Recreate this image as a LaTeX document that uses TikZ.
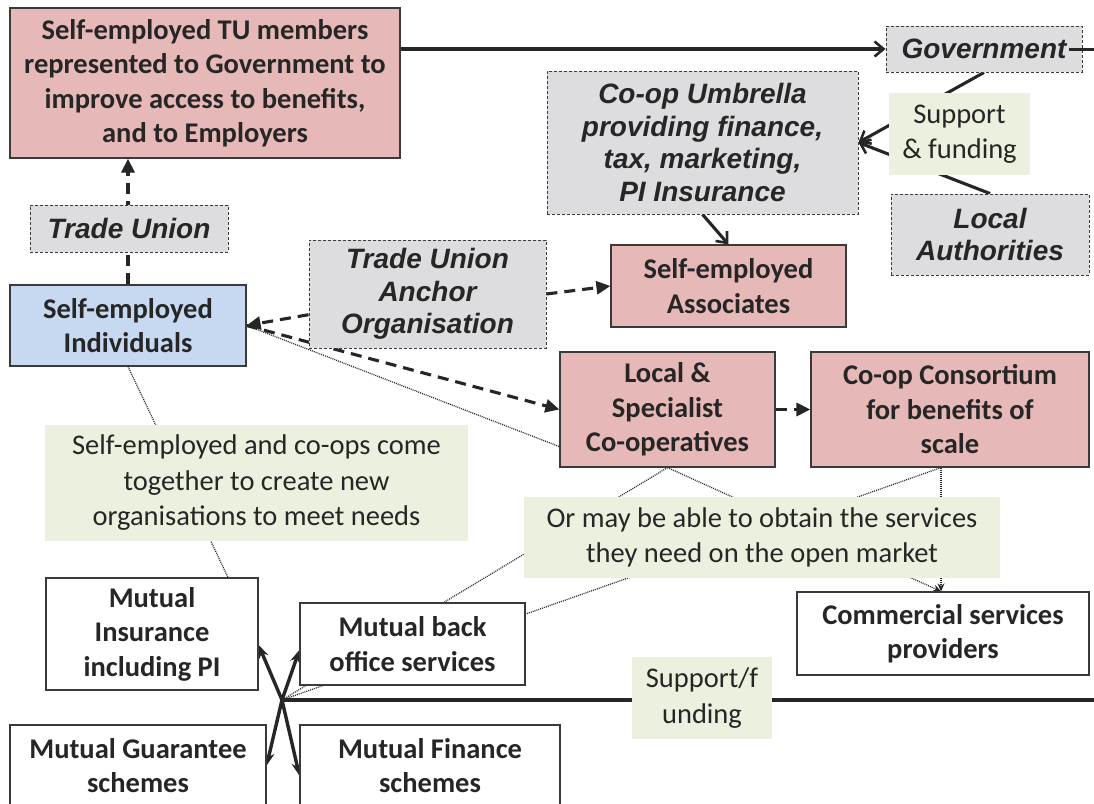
\documentclass[tikz,border=0pt]{standalone}
\usepackage{fontspec}
\setmainfont{Carlito}
\newfontfamily\arialfont{Liberation Sans}
\usetikzlibrary{arrows.meta,calc}
\pgfdeclarelayer{bgwhite}
\pgfdeclarelayer{bg}
\pgfsetlayers{bgwhite,bg,main}
\definecolor{pinkf}{HTML}{E6B9B8}
\definecolor{bluef}{HTML}{C6D9F0}
\definecolor{greyf}{HTML}{DDDDDF}
\definecolor{greenf}{HTML}{EBF1DE}
\definecolor{txt}{HTML}{262626}
\definecolor{edge}{HTML}{3A3A3A}
\begin{document}
\begin{tikzpicture}[x=1pt,y=-1pt,
  wh/.style 2 args={minimum width=#1pt, minimum height=#2pt},
  base/.style={rectangle, inner sep=0pt, align=center, text=txt,
    font=\fontsize{28.5}{34.5}\selectfont\bfseries},
  pinkbox/.style={base, fill=pinkf, draw=edge, line width=1.2pt},
  bluebox/.style={base, fill=bluef, draw=edge, line width=1.2pt},
  whitebox/.style={base, fill=white, draw=edge, line width=1.2pt},
  greybox/.style={rectangle, inner sep=0pt, align=center, text=txt, fill=greyf,
    draw=edge, dash pattern=on 3pt off 2pt, line width=0.9pt,
    font=\arialfont\bfseries\itshape\fontsize{28}{32.5}\selectfont},
  note/.style={rectangle, inner sep=0pt, align=center, fill=greenf, text=txt,
    font=\fontsize{28.5}{35.5}\selectfont},
  solidarrow/.style={draw=txt, line width=3.1pt, -{Straight Barb[length=9pt,width=15pt,line width=2.6pt]}},
  dasharrow/.style={draw=txt, line width=3.1pt, dash pattern=on 11pt off 7pt, -{Triangle[length=14pt,width=13pt]}},
  dotline/.style={draw=black!85, line width=1.2pt, dash pattern=on 1pt off 1pt},
  dotarrow/.style={dotline, -{Stealth[length=8pt,width=7pt]}},
  hubarrow/.style={draw=txt, line width=3.4pt, -{Stealth[length=13pt,width=10pt]}},
  hubline/.style={draw=txt, line width=3.4pt}
]
\begin{pgfonlayer}{bgwhite}
\fill[white] (0,0) rectangle (1094,803);
\end{pgfonlayer}
\useasboundingbox (0,0) rectangle (1094,803);

\node[pinkbox, wh={390}{150}] (tu) at (205,83) {Self-employed TU members\\represented to Government to\\improve access to benefits,\\and to Employers};
\node[greybox, wh={196}{46}] (gov) at (984,49) {Government};
\node[greybox, wh={311}{143}] (umb) at (702.5,142.5) {Co-op Umbrella\\providing finance,\\tax, marketing,\\PI Insurance};
\node[note, wh={141}{82}] (sf) at (959.5,134) {Support\\\& funding};
\node[greybox, wh={198}{81}] (la) at (990,234.5) {Local\\Authorities};
\node[greybox, wh={198}{47}] (tun) at (129,228.5) {Trade Union};
\node[greybox, wh={237}{108}] (anc) at (427.5,294) {Trade Union\\Anchor\\Organisation};
\node[pinkbox, wh={235}{82}] (assoc) at (728.5,286) {Self-employed\\Associates};
\node[bluebox, wh={236}{81}] (ind) at (128,325.5) {Self-employed\\Individuals};
\node[pinkbox, wh={215}{115}] (loc) at (667.5,409.5) {Local \&\\Specialist\\Co-operatives};
\node[pinkbox, wh={278}{115}] (cons) at (950,409.5) {Co-op Consortium\\for benefits of\\scale};
\node[note, wh={423}{116}] (n1) at (256.5,483) {Self-employed and co-ops come\\together to create new\\organisations to meet needs};
\node[note, wh={476}{81}] (n2) at (762,537.5) {Or may be able to obtain the services\\they need on the open market};
\node[whitebox, wh={292}{83}] (com) at (943,633.5) {Commercial services\\providers};
\node[whitebox, wh={212}{112}] (ins) at (152,634) {Mutual\\Insurance\\including PI};
\node[whitebox, wh={225}{82}] (bo) at (412.5,644) {Mutual back\\office services};
\node[note, wh={140}{82}] (n3) at (702,698) {Support/f\\unding};
\node[whitebox, wh={256}{81}] (gua) at (138,765.5) {Mutual Guarantee\\schemes};
\node[whitebox, wh={260}{81}] (fin) at (430,765.5) {Mutual Finance\\schemes};

\coordinate (hub) at (282,700);
\coordinate (hubout) at (1110,700);
\coordinate (govout) at (1110,49);

% line leaving Government to the right (visible over the box)
\draw[draw=txt, line width=3pt] ([xshift=-13pt]gov.east) -- (govout);

\begin{pgfonlayer}{bg}
\draw[solidarrow] (tu.east |- gov.west) -- (gov.west);
\draw[solidarrow] (gov.south) -- (umb.east);
\draw[solidarrow] (la.north) -- (umb.east);
\draw[solidarrow] (umb.south) -- (assoc.north);

\draw[dasharrow] (ind.north) -- (ind.north |- tu.south);
\draw[dasharrow] (anc) -- (ind.east);
\draw[dasharrow] (ind.east) -- (loc.west);
\draw[dasharrow] (anc.east) -- (assoc.west);
\draw[dasharrow] (loc.east) -- (cons.west);

\draw[dotline] (ind.south) -- ([xshift=76pt]ins.north);
\draw[dotline] (ind.east) -- ([yshift=21pt]loc.south west);
\draw[dotline] (loc.south) -- (hub);
\draw[dotarrow] (loc.south) -- ([xshift=-2pt]com.north);
\draw[dotline] ([xshift=-9pt]cons.south) -- (hub);
\draw[dotarrow] ([xshift=-9pt]cons.south) -- ([xshift=-2pt]com.north);

\draw[hubline] (hub) -- (hubout);
\draw[hubarrow] (hub) -- ([yshift=-11pt]ins.east);
\draw[hubarrow] (hub) -- ([yshift=-6pt]bo.west);
\draw[hubarrow] (hub) -- (gua.east);
\draw[hubarrow] (hub) -- ([yshift=-10pt]fin.west);
\end{pgfonlayer}
\end{tikzpicture}
\end{document}
